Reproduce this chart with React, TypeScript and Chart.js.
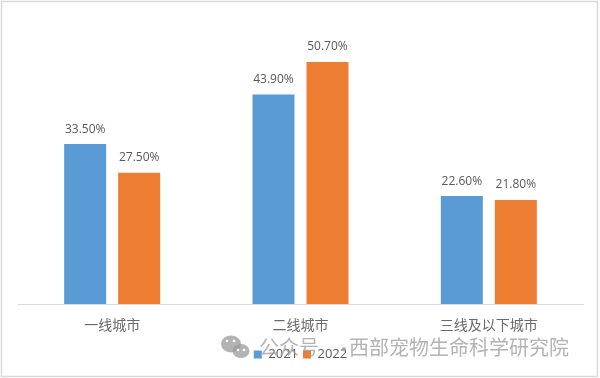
import React, { useEffect, useRef } from "react";
import { Chart, registerables } from "chart.js";

Chart.register(...registerables);

const categories = ["一线城市", "二线城市", "三线及以下城市"];
const seriesNames = ["2021", "2022"];
const values2021 = [33.5, 43.9, 22.6];
const values2022 = [27.5, 50.7, 21.8];
const seriesColors = ["#5B9BD5", "#ED7D31"];
const watermarkLeft = "公众号";
const watermarkRight = "西部宠物生命科学研究院";

export default function App() {
  const canvasRef = useRef<HTMLCanvasElement | null>(null);

  useEffect(() => {
    const canvas = canvasRef.current;
    if (!canvas) return;

    const valueLabels = {
      id: "valueLabels",
      afterDatasetsDraw(chart: any) {
        const c = chart.ctx;
        c.save();
        c.font = "12px 'Open Sans'";
        c.fillStyle = "#595959";
        c.textAlign = "center";
        c.textBaseline = "alphabetic";
        chart.data.datasets.forEach((ds: any, i: number) => {
          const meta = chart.getDatasetMeta(i);
          meta.data.forEach((el: any, j: number) => {
            const v = ds.data[j] as number;
            c.fillText(v.toFixed(2) + "%", el.x, el.y - 11.5);
          });
        });
        c.restore();
      },
    };

    const frame = {
      id: "frame",
      beforeDraw(chart: any) {
        const c = chart.ctx;
        c.save();
        c.fillStyle = "#ffffff";
        c.fillRect(0, 0, chart.width, chart.height);
        c.restore();
      },
      afterDraw(chart: any) {
        const c = chart.ctx;
        c.save();
        c.strokeStyle = "#d9d9d9";
        c.lineWidth = 1.5;
        c.strokeRect(1.5, 1.5, 596, 375);
        // watermark
        c.globalAlpha = 0.75;
        c.fillStyle = "#9a9a9a";
        c.beginPath();
        c.ellipse(231, 344, 10, 8.5, 0, 0, Math.PI * 2);
        c.fill();
        c.beginPath();
        c.ellipse(241, 351, 8.5, 7, 0, 0, Math.PI * 2);
        c.fill();
        c.globalAlpha = 1;
        c.fillStyle = "#ffffff";
        [[227, 341], [234, 341], [238, 350], [244, 350]].forEach(([x, y]) => {
          c.beginPath();
          c.arc(x, y, 1.3, 0, Math.PI * 2);
          c.fill();
        });
        c.globalAlpha = 0.8;
        c.fillStyle = "#a0a0a0";
        c.font = "20px 'Noto Sans CJK SC'";
        c.textAlign = "left";
        c.textBaseline = "alphabetic";
        c.fillText(watermarkLeft, 259, 355);
        c.fillText("·", 334, 357);
        c.fillText(watermarkRight, 349, 355);
        c.restore();
      },
    };

    const chart = new Chart(canvas, {
      type: "bar",
      data: {
        labels: categories,
        datasets: [
          {
            label: seriesNames[0],
            data: values2021,
            backgroundColor: seriesColors[0],
            barPercentage: 0.778,
            categoryPercentage: 0.5735,
          },
          {
            label: seriesNames[1],
            data: values2022,
            backgroundColor: seriesColors[1],
            barPercentage: 0.778,
            categoryPercentage: 0.5735,
          },
        ],
      },
      options: {
        responsive: false,
        animation: false,
        layout: { padding: { top: 17.5, left: 18, right: 17, bottom: 7 } },
        scales: {
          x: {
            grid: { display: false, drawTicks: false },
            border: { display: true, color: "#d9d9d9", width: 1 },
            ticks: {
              font: { family: "'Noto Sans CJK SC'", size: 14 },
              color: "#6a6a6a",
              padding: 12,
            },
            afterFit: (s: any) => {
              s.height = 39;
            },
          },
          y: { display: false, min: 0, max: 60 },
        },
        plugins: {
          legend: {
            position: "bottom",
            labels: {
              boxWidth: 8,
              boxHeight: 8,
              padding: 5,
              color: "#595959",
              font: { family: "'Open Sans'", size: 13 },
            },
          },
          tooltip: { enabled: false },
        },
      },
      plugins: [valueLabels, frame],
    });

    return () => chart.destroy();
  }, []);

  return (
    <div style={{ position: "fixed", left: 0, top: 0, width: 600, height: 378 }}>
      <canvas ref={canvasRef} width={600} height={378} />
    </div>
  );
}
